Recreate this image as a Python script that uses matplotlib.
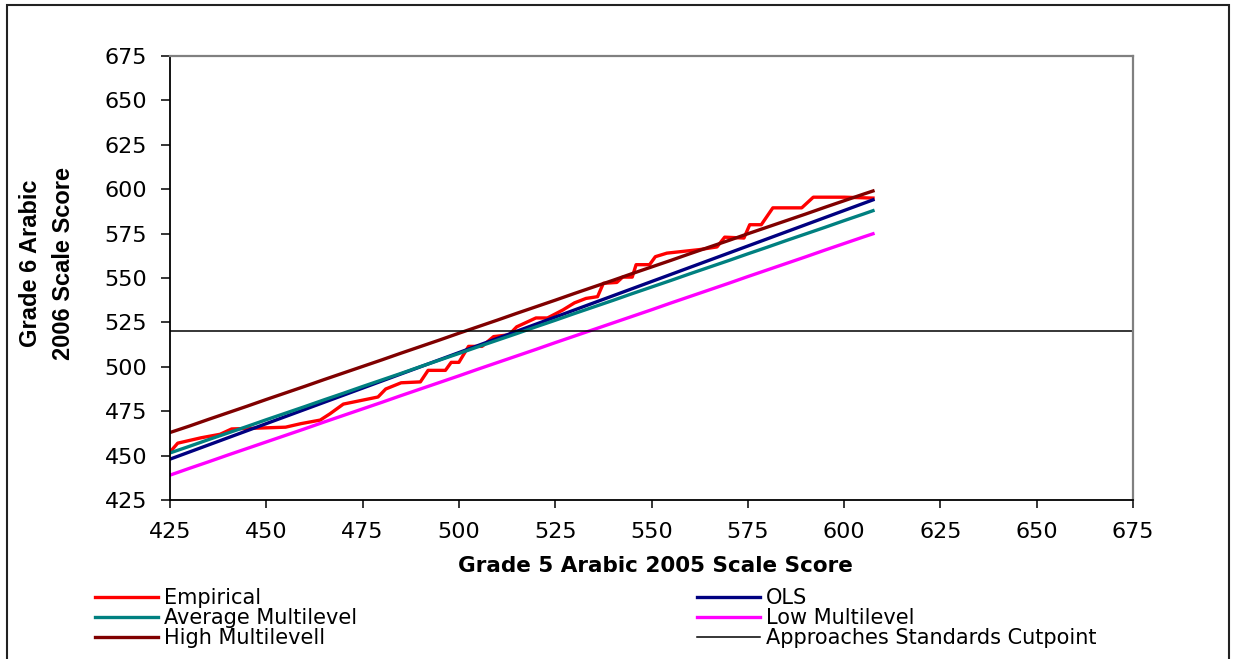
import matplotlib
matplotlib.use("Agg")
import matplotlib.pyplot as plt
from matplotlib.patches import Rectangle

# Grade 5 scores at which the model predictions are evaluated
score_x = [425, 430, 435, 440, 445, 450, 455, 460, 465, 470, 475, 480, 485,
           490, 495, 500, 505, 510, 515, 520, 525, 530, 535, 540, 545, 550,
           555, 560, 565, 570, 575, 580, 585, 590, 595, 600, 605, 607.5]

ols = [448.0, 452.0, 456.0, 460.0, 464.0, 468.0, 472.0, 476.0, 480.0, 484.0,
       488.0, 492.0, 496.0, 500.0, 504.0, 508.0, 512.0, 516.0, 520.0, 524.0,
       528.0, 532.0, 536.0, 540.0, 544.0, 548.0, 552.0, 556.0, 560.0, 564.0,
       568.0, 572.0, 576.0, 580.0, 584.0, 588.0, 592.0, 594.0]

avg_multilevel = [451.5, 455.2, 459.0, 462.7, 466.4, 470.2, 473.9, 477.6, 481.4,
                  485.1, 488.9, 492.6, 496.3, 500.1, 503.8, 507.5, 511.3, 515.0,
                  518.7, 522.5, 526.2, 530.0, 533.7, 537.4, 541.2, 544.9, 548.6,
                  552.4, 556.1, 559.8, 563.6, 567.3, 571.1, 574.8, 578.5, 582.3,
                  586.0, 587.9]

low_multilevel = [439.0, 442.8, 446.5, 450.3, 454.0, 457.7, 461.4, 465.1, 468.9,
                  472.6, 476.3, 480.0, 483.8, 487.5, 491.2, 494.9, 498.7, 502.4,
                  506.1, 509.8, 513.6, 517.3, 521.0, 524.7, 528.4, 532.1, 535.9,
                  539.6, 543.3, 547.0, 550.8, 554.5, 558.2, 561.9, 565.7, 569.4,
                  573.1, 574.9]

high_multilevel = [463.0, 466.6, 470.4, 474.1, 477.8, 481.6, 485.3, 489.0, 492.8,
                   496.5, 500.2, 503.9, 507.7, 511.4, 515.1, 518.9, 522.6, 526.3,
                   530.1, 533.8, 537.5, 541.3, 545.0, 548.7, 552.5, 556.2, 559.9,
                   563.7, 567.4, 571.1, 574.9, 578.6, 582.3, 586.0, 589.8, 593.5,
                   597.2, 599.0]

# Observed (empirical) mean Grade 6 score by Grade 5 score
emp_x = [425, 427, 433, 438, 441, 455, 459, 464, 466.5, 470, 479, 481, 485, 490,
         492, 496.5, 498, 500, 502.5, 506, 509, 513, 515, 520, 523, 527, 530, 533,
         536, 537.5, 541, 542.5, 545, 546, 549.5, 551, 554, 562.5, 567, 569, 574,
         575.5, 578.5, 581.5, 589, 592, 600, 607.5]
emp_y = [452, 457, 460, 462, 465, 466, 468, 470, 473.5, 479, 483, 487.5, 491,
         491.5, 498, 498, 502.5, 502.5, 511.5, 511.5, 517, 518, 522.5, 527.5,
         527.5, 532, 536, 538.5, 539.5, 547, 547.5, 550.5, 550.5, 557.5, 557.5,
         562, 564, 566, 567.5, 573, 572.5, 580, 580, 589.5, 589.5, 595.5, 595.5,
         595]

cutpoint = 520
axis_ticks = [425, 450, 475, 500, 525, 550, 575, 600, 625, 650, 675]

W, H = 1233, 659
fig = plt.figure(figsize=(W / 100, H / 100), dpi=100)
ax = fig.add_axes([170 / W, 1 - 500 / H, 963 / W, 444 / H])

lw = 2.4
h_emp, = ax.plot(emp_x, emp_y, color="#FF0000", lw=lw, label="Empirical")
h_ols, = ax.plot(score_x, ols, color="#000080", lw=lw, label="OLS")
h_avg, = ax.plot(score_x, avg_multilevel, color="#008080", lw=lw,
                 label="Average Multilevel")
h_low, = ax.plot(score_x, low_multilevel, color="#FF00FF", lw=lw,
                 label="Low Multilevel")
h_high, = ax.plot(score_x, high_multilevel, color="#800000", lw=lw,
                  label="High Multilevell")
h_cut, = ax.plot([axis_ticks[0], axis_ticks[-1]], [cutpoint, cutpoint],
                 color="black", lw=1.1, label="Approaches Standards Cutpoint")

ax.set_xlim(axis_ticks[0], axis_ticks[-1])
ax.set_ylim(axis_ticks[0], axis_ticks[-1])
ax.set_xticks(axis_ticks)
ax.set_yticks(axis_ticks)

tick_font = dict(family="DejaVu Sans", size=16)
ax.set_xticklabels([str(t) for t in axis_ticks], **tick_font)
ax.set_yticklabels([str(t) for t in axis_ticks], **tick_font)
ax.tick_params(axis="x", direction="out", length=6, width=1.1, pad=9.5,
               color="black")
ax.tick_params(axis="y", direction="out", length=6.5, width=1.1, pad=10,
               color="black")

for side in ("left", "bottom"):
    ax.spines[side].set_color("black")
    ax.spines[side].set_linewidth(1.3)
for side in ("top", "right"):
    ax.spines[side].set_color("#808080")
    ax.spines[side].set_linewidth(1.6)

ax.set_xlabel("Grade 5 Arabic 2005 Scale Score", family="DejaVu Sans",
              fontweight="bold", fontsize=15.5)
ax.xaxis.set_label_coords((655 - 170) / 963, (500 - 556) / 444)

# two-line vertical axis title
ylab_font = dict(family=["Liberation Sans", "DejaVu Sans"], fontweight="bold",
                 fontsize=17, rotation=90, ha="center", va="center")
fig.text(31 / W, 1 - 263 / H, "Grade 6 Arabic", **ylab_font)
fig.text(64 / W, 1 - 263 / H, "2006 Scale Score", **ylab_font)

leg_kw = dict(loc="center left", frameon=False, borderpad=0, borderaxespad=0,
              handlelength=3.0, handletextpad=0.3, labelspacing=0.0,
              prop=dict(family="DejaVu Sans", size=15))
fig.legend(handles=[h_emp, h_avg, h_high],
           bbox_to_anchor=(95 / W, 1 - 618.5 / H), **leg_kw)
fig.legend(handles=[h_ols, h_low, h_cut],
           bbox_to_anchor=(697 / W, 1 - 618.5 / H), **leg_kw)

# chart-area frame (bottom edge runs past the canvas)
fig.add_artist(Rectangle((7 / W, -0.05), (1229 - 7) / W, 1.05 - 5 / H,
                         transform=fig.transFigure, fill=False,
                         edgecolor="#222222", lw=1.5, clip_on=False))

fig.savefig("out.png", dpi=100)
